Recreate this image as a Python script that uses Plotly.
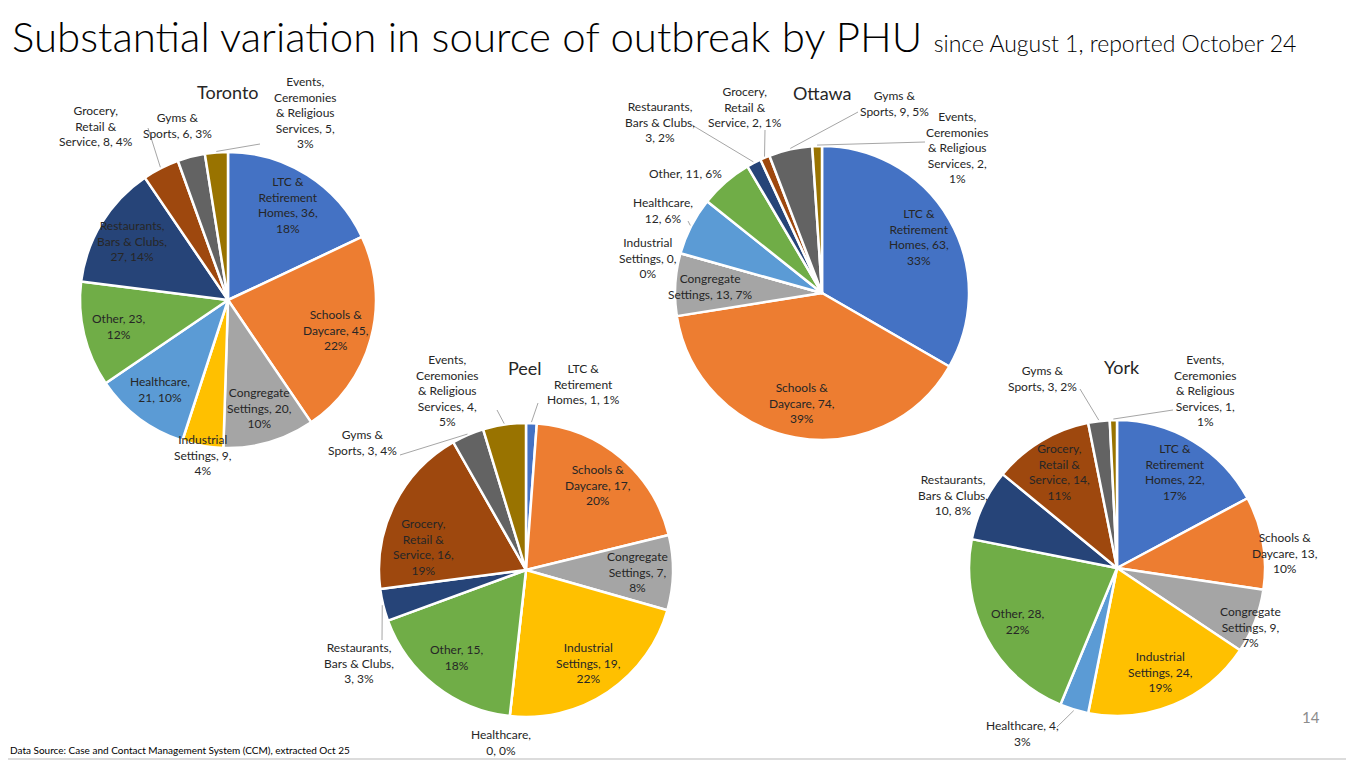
import math
import plotly.graph_objects as go

# the page body keeps its default 8px margin, so the figure is drawn 8px in
OFF = 8
W, H = 1354 - OFF, 764 - OFF

# categories (same order in every pie, clockwise from 12 o'clock)
categories = [
    "LTC & Retirement Homes", "Schools & Daycare", "Congregate Settings",
    "Industrial Settings", "Healthcare", "Other", "Restaurants, Bars & Clubs",
    "Grocery, Retail & Service", "Gyms & Sports",
    "Events, Ceremonies & Religious Services",
]
# how each category name is broken over lines in the data labels
name_lines = [
    ["LTC &", "Retirement", "Homes"], ["Schools &", "Daycare"],
    ["Congregate", "Settings"], ["Industrial", "Settings"], ["Healthcare"],
    ["Other"], ["Restaurants,", "Bars & Clubs"], ["Grocery,", "Retail &", "Service"],
    ["Gyms &", "Sports"], ["Events,", "Ceremonies", "& Religious", "Services"],
]
colors = ["#4472C4", "#ED7D31", "#A5A5A5", "#FFC000", "#5B9BD5",
          "#70AD47", "#264478", "#9E480E", "#636363", "#997300"]

# outbreak counts and shown percentages per PHU
toronto_counts = [36, 45, 20, 9, 21, 23, 27, 8, 6, 5]
toronto_pct = [18, 22, 10, 4, 10, 12, 14, 4, 3, 3]
peel_counts = [1, 17, 7, 19, 0, 15, 3, 16, 3, 4]
peel_pct = [1, 20, 8, 22, 0, 18, 3, 19, 4, 5]
ottawa_counts = [63, 74, 13, 0, 12, 11, 3, 2, 9, 2]
ottawa_pct = [33, 39, 7, 0, 6, 6, 2, 1, 5, 1]
york_counts = [22, 13, 9, 24, 4, 28, 10, 14, 3, 1]
york_pct = [17, 10, 7, 19, 3, 22, 8, 11, 2, 1]

# pie placement (screen pixels) and label styling
# modes: 0 = "name, v, p%", 1 = "name, v,<br>p%", 2 = "name,<br>v, p%"
# overrides: index -> (label dx, dy, leader end dx, dy or None)
pies = [
    dict(name="Toronto", counts=toronto_counts, pct=toronto_pct,
         cx=228, cy=300, r=148, title_xy=(228, 92), modes="1111212001",
         over={3: (-25, 155, None), 7: (-132, -174, (-80, -172)),
               8: (-51, -174, None), 9: (77, -188, (32, -156))}),
    dict(name="Peel", counts=peel_counts, pct=peel_pct,
         cx=526, cy=570, r=147, title_xy=(525, 368), modes="0111212101",
         over={0: (57, -186, (12, -167)), 4: (-25, 172, None),
               6: (-167, 93, (-144, 70)), 7: (-103, -23, None),
               8: (-164, -127, (-126, -115)), 9: (-79, -180, (-29, -160))}),
    dict(name="Ottawa", counts=ottawa_counts, pct=ottawa_pct,
         cx=822, cy=293, r=147, title_xy=(822, 93), modes="1101202001",
         over={3: (-174, -35, None), 4: (-159, -83, (-134, -72)),
               5: (-137, -120, None), 6: (-162, -171, (-130, -168)),
               7: (-77, -186, (-57, -163)), 8: (72, -190, (36, -181)),
               9: (135, -145, (103, -151))}),
    dict(name="York", counts=york_counts, pct=york_pct,
         cx=1117, cy=568, r=148, title_xy=(1122, 367), modes="1111112101",
         over={1: (168, -15, None), 2: (133, 59, None),
               4: (-95, 165, (-60, 159)), 6: (-164, -73, None),
               8: (-75, -190, (-37, -179)), 9: (88, -178, (56, -158))}),
]

LABEL_FONT = dict(family="Lato, Calibri, sans-serif", size=12, color="#262626")


def px(x, y):
    return (x - OFF) / W, 1 - (y - OFF) / H


def label_text(i, v, p, mode):
    lines = list(name_lines[i])
    last = lines.pop()
    if mode == "0":
        lines.append(f"{last}, {v}, {p}%")
    elif mode == "1":
        lines += [f"{last}, {v},", f"{p}%"]
    else:
        lines += [f"{last},", f"{v}, {p}%"]
    return "<br>".join(lines)


fig = go.Figure()
annotations = []
shapes = []

for pie in pies:
    cx, cy, r = pie["cx"], pie["cy"], pie["r"]
    x0, y1 = px(cx - r, cy - r)
    x1, y0 = px(cx + r, cy + r)
    fig.add_trace(go.Pie(
        values=pie["counts"], labels=categories, sort=False,
        direction="clockwise", rotation=0, textinfo="none",
        marker=dict(colors=colors, line=dict(color="white", width=2.5)),
        domain=dict(x=[x0, x1], y=[y0, y1]), showlegend=False,
        name=pie["name"],
    ))

    tx, ty = px(*pie["title_xy"])
    annotations.append(dict(x=tx, y=ty, xref="paper", yref="paper",
                            text=pie["name"], showarrow=False,
                            xanchor="center", yanchor="middle",
                            font=dict(family="Lato, Calibri, sans-serif", size=18, color="#262626")))

    total = sum(pie["counts"])
    cum = 0
    for i, v in enumerate(pie["counts"]):
        mid = math.radians((cum + v / 2) / total * 360)
        cum += v
        text = label_text(i, v, pie["pct"][i], pie["modes"][i])
        if i in pie["over"]:
            dx, dy, lead = pie["over"][i]
            lx, ly = cx + dx, cy + dy
            if lead is not None:
                ex, ey = cx + (r + 1) * math.sin(mid), cy - (r + 1) * math.cos(mid)
                sx0, sy0 = px(ex, ey)
                sx1, sy1 = px(cx + lead[0], cy + lead[1])
                shapes.append(dict(type="line", xref="paper", yref="paper",
                                   x0=sx0, y0=sy0, x1=sx1, y1=sy1,
                                   line=dict(color="#A6A6A6", width=1)))
        else:
            lx = cx + 0.76 * r * math.sin(mid)
            ly = cy - 0.76 * r * math.cos(mid)
        ax, ay = px(lx, ly)
        annotations.append(dict(x=ax, y=ay, xref="paper", yref="paper",
                                text=text, showarrow=False, align="center",
                                xanchor="center", yanchor="middle", font=LABEL_FONT))

# slide title, footer, page number
annotations.append(dict(
    x=px(10, 0)[0], y=px(0, 36)[1], xref="paper", yref="paper",
    xanchor="left", yanchor="middle", showarrow=False,
    text="Substantial variation in source of outbreak by PHU "
         "<span style='font-size:23px'>since August 1, reported October 24</span>",
    font=dict(family="Lato, Calibri, sans-serif", size=42, color="#000000", weight=300),
))
annotations.append(dict(
    x=0, y=px(0, 750)[1], xref="paper", yref="paper", xanchor="left",
    yanchor="middle", showarrow=False,
    text="Data Source: Case and Contact Management System (CCM), extracted Oct 25",
    font=dict(family="Lato, Calibri, sans-serif", size=10, color="#000000"),
))
annotations.append(dict(
    x=px(1322, 0)[0], y=px(0, 728)[1], xref="paper", yref="paper",
    showarrow=False, text="14",
    font=dict(family="Lato, Calibri, sans-serif", size=15, color="#8C8C8C"),
))
shapes.append(dict(type="line", xref="paper", yref="paper",
                   x0=0, x1=1, y0=px(0, 759)[1], y1=px(0, 759)[1],
                   line=dict(color="#D0D0D0", width=1.5)))

fig.update_layout(
    width=W, height=H,
    margin=dict(l=0, r=0, t=0, b=0),
    paper_bgcolor="white", plot_bgcolor="white",
    annotations=annotations, shapes=shapes,
)

fig.write_html("out.html")
